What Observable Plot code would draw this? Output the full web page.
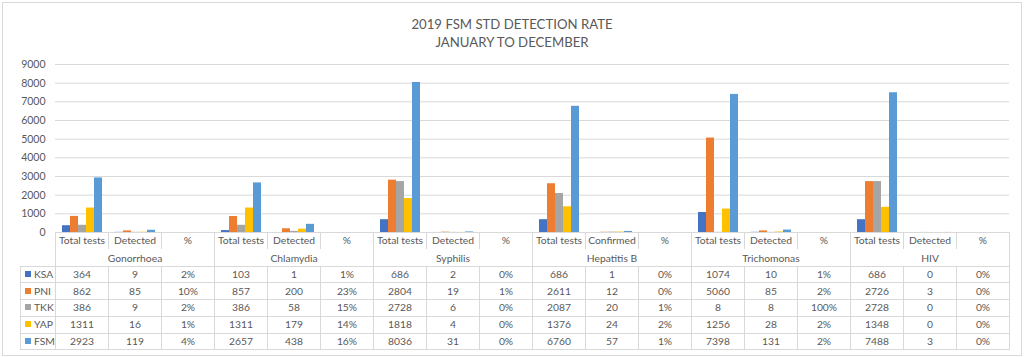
<!DOCTYPE html>
<html><head><meta charset="utf-8">
<script src="https://cdn.jsdelivr.net/npm/d3@7"></script>
<script src="https://cdn.jsdelivr.net/npm/@observablehq/plot@0.6"></script>
<style>
body{margin:0;background:#fff;}
#wrap{position:relative;width:1024px;height:357px;overflow:hidden;font-family:Lato,"Open Sans",sans-serif;color:#595959;background:#fff;}
#title{position:absolute;left:0;top:15px;width:1024px;text-align:center;font-size:13.2px;line-height:18px;color:#595959;z-index:2;}
#chart{position:absolute;left:0;top:0;}
#tbl{position:absolute;left:20px;top:232px;border-collapse:collapse;table-layout:fixed;font-size:10.3px;color:#595959;z-index:2;}
#tbl tr{height:17px;}
#tbl tr.data{height:16.8px;}
#tbl td{border:1px solid #d9d9d9;text-align:center;padding:0;white-space:nowrap;overflow:hidden;line-height:13px;}
#tbl td.blank{border:none;}
#tbl tr.hdr td{border-top:none;border-bottom:none;}
#tbl tr.grp td{padding-top:2px;}
#tbl td.key{text-align:left;padding-left:4px;}
#tbl td.key span{display:inline-block;width:6px;height:6px;margin-right:3px;vertical-align:1px;}
#border{position:absolute;left:2px;top:2px;width:1018px;height:352px;border:1px solid #d9d9d9;z-index:3;pointer-events:none;}
</style>
</head>
<body>
<div id="wrap">
  <div id="chart"></div>
  <div id="title">2019 FSM STD DETECTION RATE<br>JANUARY TO DECEMBER</div>
  <table id="tbl"></table>
  <div id="border"></div>
</div>
<script>
// ---- data ----
const regions = ["KSA", "PNI", "TKK", "YAP", "FSM"];
const regionColors = ["#4472C4", "#ED7D31", "#A5A5A5", "#FFC000", "#5B9BD5"];
const diseases = ["Gonorrhoea", "Chlamydia", "Syphilis", "Hepatitis B", "Trichomonas", "HIV"];
const measureLabels = [
  ["Total tests", "Detected", "%"],
  ["Total tests", "Detected", "%"],
  ["Total tests", "Detected", "%"],
  ["Total tests", "Confirmed", "%"],
  ["Total tests", "Detected", "%"],
  ["Total tests", "Detected", "%"]
];
const yTicks = [0, 1000, 2000, 3000, 4000, 5000, 6000, 7000, 8000, 9000];

const ksaTotal = [364, 103, 686, 686, 1074, 686];
const ksaDetected = [9, 1, 2, 1, 10, 0];
const ksaPct = [2, 1, 0, 0, 1, 0];

const pniTotal = [862, 857, 2804, 2611, 5060, 2726];
const pniDetected = [85, 200, 19, 12, 85, 3];
const pniPct = [10, 23, 1, 0, 2, 0];

const tkkTotal = [386, 386, 2728, 2087, 8, 2728];
const tkkDetected = [9, 58, 6, 20, 8, 0];
const tkkPct = [2, 15, 0, 1, 100, 0];

const yapTotal = [1311, 1311, 1818, 1376, 1256, 1348];
const yapDetected = [16, 179, 4, 24, 28, 0];
const yapPct = [1, 14, 0, 2, 2, 0];

const fsmTotal = [2923, 2657, 8036, 6760, 7398, 7488];
const fsmDetected = [119, 438, 31, 57, 131, 3];
const fsmPct = [4, 16, 0, 1, 2, 0];

// ---- build tables ----
const series = {
  KSA: [ksaTotal, ksaDetected, ksaPct],
  PNI: [pniTotal, pniDetected, pniPct],
  TKK: [tkkTotal, tkkDetected, tkkPct],
  YAP: [yapTotal, yapDetected, yapPct],
  FSM: [fsmTotal, fsmDetected, fsmPct]
};
const cols = [];
diseases.forEach((d, i) => [0, 1, 2].forEach(m => cols.push(`${i}-${m}`)));
const data = [];
diseases.forEach((d, i) => {
  [0, 1, 2].forEach(m => {
    regions.forEach(r => {
      const v = series[r][m][i];
      data.push({col: `${i}-${m}`, region: r, value: m === 2 ? v / 100 : v});
    });
  });
});

const plot = Plot.plot({
  width: 1024,
  height: 240,
  marginLeft: 55,
  marginRight: 15,
  marginTop: 64,
  marginBottom: 8,
  style: {fontFamily: "Lato, 'Open Sans', sans-serif", fontSize: "10.5px", color: "#595959", background: "transparent"},
  fx: {domain: cols, padding: 0, axis: null, label: null},
  x: {domain: regions, paddingInner: 0, paddingOuter: 0.73, axis: null},
  y: {domain: [0, 9000], ticks: yTicks, tickSize: 0, tickPadding: 10, label: null, tickFormat: d => String(d)},
  color: {domain: regions, range: regionColors},
  marks: [
    Plot.ruleY(yTicks, {stroke: "#d9d9d9"}),
    Plot.barY(data, {fx: "col", x: "region", y: "value", fill: "region"})
  ]
});
document.getElementById("chart").appendChild(plot);

// ---- data table ----
const tbl = d3.select("#tbl");
const cg = tbl.append("colgroup");
cg.append("col").style("width", "35px");
cols.forEach(() => cg.append("col").style("width", "53px"));

const hdr = tbl.append("tr").attr("class", "hdr");
hdr.append("td").attr("class", "blank");
diseases.forEach((d, i) => measureLabels[i].forEach(l => hdr.append("td").text(l)));

const grp = tbl.append("tr").attr("class", "grp");
grp.append("td").attr("class", "blank");
diseases.forEach(d => grp.append("td").attr("colspan", 3).style("border-top", "none").text(d));

regions.forEach((r, ri) => {
  const tr = tbl.append("tr").attr("class", "data");
  const k = tr.append("td").attr("class", "key");
  k.append("span").style("background", regionColors[ri]);
  k.append("tspan").text(r);
  diseases.forEach((d, i) => {
    tr.append("td").text(series[r][0][i]);
    tr.append("td").text(series[r][1][i]);
    tr.append("td").text(series[r][2][i] + "%");
  });
});
</script>
</body></html>
